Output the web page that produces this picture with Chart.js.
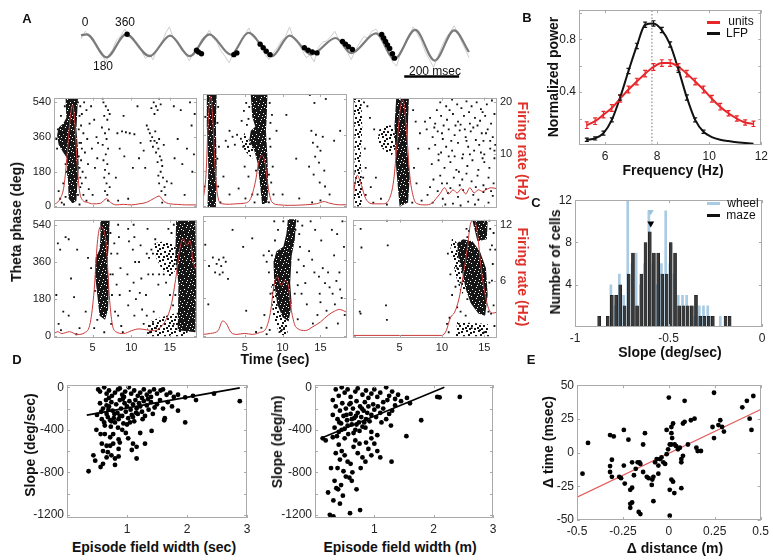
<!DOCTYPE html>
<html><head><meta charset="utf-8">
<script src="https://cdn.jsdelivr.net/npm/chart.js@4.4.1/dist/chart.umd.min.js"></script>
<style>
html,body{margin:0;padding:0;background:#fff;}
#fig{position:relative;width:773px;height:560px;overflow:hidden;font-family:'Liberation Sans',Arial,sans-serif;color:#111;}
#fig canvas{position:absolute;}
.t{position:absolute;white-space:nowrap;line-height:1;transform:translate(-50%,-50%);}
.lab{font-weight:bold;font-size:14px;}
.pan{font-weight:bold;font-size:13px;}
.sm{font-size:12px;}
.key{position:absolute;height:3px;}
</style></head><body><div id="fig"></div>
<script>
/* ---------- panel A: LFP trace + spikes ---------- */
const lfpT = [0, 21, 93, 164, 250, 325, 396, 468, 546, 610, 696, 760, 839, 928, 985, 1075, 1142, 1218, 1289, 1360, 1414];
const lfpA = [0.92, 1.02, -1.1, 1.02, -0.98, 0.9, -0.98, 1.02, -0.84, 1.16, -0.98, 0.9, -0.84, 0.68, -0.7, 1.1, -1.24, 1.42, -1.38, 1.38, -0.6];
const rawLfp = [[0,0.6],[15,1.3],[30,0.8],[45,0.6],[60,-0.2],[75,-0.6],[90,-1.6],[100,-0.9],[115,-0.4],[130,0.5],[145,0.9],[160,1.5],[172,0.8],[190,0.7],[205,-0.1],[220,-0.5],[235,-1.2],[250,-0.8],[262,-1.3],[280,-0.2],[295,0.3],[310,1.2],[322,1.7],[335,0.8],[350,0.4],[365,-0.4],[380,-0.8],[395,-1.4],[410,-0.6],[425,-0.2],[440,0.6],[455,0.9],[468,1.4],[480,0.7],[495,0.3],[510,-0.5],[525,-1.0],[540,-1.6],[555,-0.7],[570,-0.3],[585,0.5],[600,1.1],[612,1.6],[625,0.8],[640,0.5],[655,-0.2],[670,-0.8],[685,-1.3],[700,-0.7],[715,-0.2],[730,0.4],[745,0.8],[760,1.7],[775,0.6],[790,0.2],[805,-0.4],[820,-1.1],[835,-0.9],[850,-1.5],[865,-0.2],[880,0.3],[895,0.4],[910,0.8],[925,1.3],[940,0.5],[955,0.2],[970,-0.6],[985,-1.3],[1000,-0.4],[1015,0.2],[1030,0.8],[1045,0.7],[1060,1.3],[1075,1.5],[1090,0.9],[1105,0.3],[1120,-0.3],[1135,-1.5],[1150,-1.9],[1165,-0.7],[1180,0.0],[1195,0.7],[1210,1.7],[1222,1.2],[1240,0.4],[1255,-0.6],[1270,-1.3],[1285,-2.0],[1300,-1.0],[1315,-0.1],[1330,0.7],[1345,1.2],[1360,1.8],[1375,1.0],[1390,0.2],[1405,-0.6],[1414,-1.1]];
const spikeT = [168, 421, 428, 439, 557, 568, 653, 664, 675, 689, 814, 828, 843, 860, 953, 964, 975, 989, 1096, 1103, 1110, 1117, 1125, 1135, 1142];
const spikeA = [1.02, -0.44, -0.6, -0.76, -0.84, -0.68, 0.12, -0.2, -0.52, -0.84, -0.2, -0.44, -0.6, -0.68, 0.36, 0.12, -0.12, -0.36, 1.0, 0.68, 0.36, 0.04, -0.28, -0.76, -1.16];
const scaleBarT = [1178, 1378];

/* ---------- panel A: rasters (time sec, theta phase deg) ---------- */
const phaseTicks = [0, 180, 360, 540];
const timeTicks = [5, 10, 15];
const rateTicksTop = [10, 20];
const rateTicksBottom = [6, 12];

// dense = nearly solid clusters, loose = speckled clouds
const r1c1Dense = [[[1.5,562],[3.1,562],[3.0,480],[2.9,400],[3.1,300],[3.2,200],[3.0,100],[2.9,30],[2.4,15],[1.9,40],[1.8,150],[1.7,250],[1.2,280],[0.6,320],[0.4,370],[0.6,410],[1.2,430],[1.6,460]]];
const r1c1Loose = [];
const r1c1Spikes = [[3.4,520],[3.6,480],[3.9,540],[4.2,500],[3.5,420],[3.8,380],[4.3,350],[3.6,300],[4.0,280],[3.5,240],[4.4,220],[3.7,180],[4.1,150],[3.6,120],[4.5,90],[3.8,60],[4.2,30],[3.5,330],[4.6,430],[3.3,200],[3.4,100],[4.8,520],[5.2,450],[4.9,300],[5.3,200],[5.0,60],[3.3,10],
 [6.4,540],[6.7,520],[7.0,500],[6.5,470],[6.9,450],[7.1,400],[6.6,380],[6.8,350],[6.3,320],[7.0,300],[6.7,270],[6.4,240],[6.9,220],[6.6,190],[7.1,170],[6.5,150],[6.8,120],[7.2,100],[6.6,80],[6.9,60],[7.0,30],[6.3,560],[7.2,480],[6.2,410],
 [5.5,360],[5.7,330],[5.6,250],[8.2,380],[8.8,390],[9.3,385],[9.8,380],[10.4,375],[8.5,300],[9.1,260],[10.2,200],[8.0,150],[9.6,40],[10.8,520],[8.3,30],[11.2,330],[11.6,290],[11.0,250],[11.8,200],[9.0,470],
 [12.9,540],[13.2,520],[13.4,500],[13.0,480],[13.6,560],[13.8,530],[12.6,510],[12.4,380],[12.7,360],[13.0,340],[13.3,330],[12.8,310],[13.5,300],[13.2,280],[13.7,260],[13.9,240],[13.4,230],[14.0,210],[12.2,400],[12.0,420],[13.1,390],[13.6,350],[14.2,320],[12.5,340],
 [13.8,180],[14.1,150],[13.6,120],[14.3,100],[13.9,80],[14.4,60],[14.0,20],[13.5,160],[14.6,130],[15.5,520],[16.4,500],[17.6,540],[17.8,420],[16.0,350],[17.2,300],[15.6,250],[16.6,220],[17.9,180],[15.2,120],[16.9,60],[18.1,270],[18.2,480],
 [1.0,20],[0.8,40],[1.3,10],[1.5,50],[0.6,80],[1.2,120],[0.9,470],[0.5,400],[0.3,350],[0.4,300],[1.6,180],[3.1,540],[3.2,400],[3.2,260],[3.1,60],[3.3,470],[3.3,330],[3.4,150],[1.4,520],[1.3,380],[1.5,220]];
const r1c1Rate = [[0,0.3],[0.8,1.5],[1.3,4],[1.7,10],[2.1,17],[2.4,19.5],[2.7,16],[3.0,8],[3.3,3],[3.7,1.2],[4.3,0.8],[5.0,0.5],[6.0,0.6],[6.8,1.5],[7.3,0.8],[8.0,0.3],[9,0.4],[10,0.3],[11,0.5],[12,0.8],[13,1.6],[13.6,2],[14.2,1],[15,0.5],[16,0.4],[17,0.3],[18.5,0.3]];

const r1c2Dense = [[[0.0,565],[1.3,565],[1.2,400],[1.3,200],[1.2,-5],[0.1,-5],[0.2,200],[0.0,400]],
 [[5.8,560],[8.0,560],[7.9,440],[7.8,380],[8.0,250],[8.1,100],[8.0,20],[7.3,10],[7.0,120],[6.7,220],[6.2,290],[5.6,330],[5.8,380],[6.4,400],[6.0,450]]];
const r1c2Loose = [[[5.6,330],[6.2,290],[6.0,240],[5.0,280],[4.6,330],[5.0,370]]];
const r1c2Spikes = [[3.0,380],[3.4,350],[4.0,360],[4.5,340],[4.8,300],[3.7,310],[2.5,330],[2.8,300],[2.2,150],[3.0,60],[4.2,90],[5.0,200],[5.5,150],[6.0,60],[6.3,20],[5.2,520],[4.9,480],[5.1,40],
 [8.3,520],[8.6,460],[8.4,300],[8.7,200],[8.5,120],[8.8,60],[9.2,380],[10.5,460],[11.8,240],[12.2,40],[10.0,60],
 [13.6,560],[14.2,520],[15.7,540],[13.8,380],[14.4,360],[14.0,320],[14.6,300],[15.0,280],[14.3,250],[14.8,220],[15.3,350],[13.5,200],[14.1,160],[15.5,180],[16.8,330],[17.6,380],[14.9,120],[15.6,100],[16.2,60],[15.0,30],[13.9,20],
 [1.5,500],[1.6,300],[1.5,100],[1.8,20],[-0.2,450],[-0.3,100],[5.3,410],[4.6,430],[8.2,20],[8.4,420],[5.6,500],[5.5,440],[6.5,180],[6.7,60],[8.3,340],[8.2,160],[1.4,420],[1.4,240]];
const r1c2Rate = [[-0.5,1],[-0.1,6],[0.2,16],[0.5,20.5],[0.8,16],[1.1,7],[1.5,1.5],[2,0.5],[3,0.4],[4,0.5],[5,0.6],[5.8,1.5],[6.4,4.5],[6.9,8.5],[7.3,9.5],[7.7,8],[8.1,3.5],[8.6,0.8],[9.5,0.3],[11,0.2],[13,0.3],[14.5,0.5],[15.5,0.9],[16.2,0.6],[17.5,0.3],[18.5,0.3]];

const r1c3Dense = [[[4.6,562],[6.1,562],[6.0,450],[5.9,300],[6.2,150],[6.0,20],[5.0,0],[4.8,100],[4.6,200],[4.5,300],[4.4,420]]];
const r1c3Loose = [[[-0.4,562],[0.5,562],[0.6,400],[0.4,250],[0.6,100],[0.5,0],[-0.4,0],[-0.3,250]],
 [[4.5,300],[4.0,260],[3.0,300],[2.4,340],[2.6,400],[3.5,420],[4.4,420]]];
const r1c3Spikes = [[9.8,540],[10.5,520],[11.2,555],[11.8,530],[12.3,510],[12.9,545],[13.5,520],[14.1,540],[14.6,505],[15.3,530],[15.9,550],[10.9,500],[13.2,490],
 [8.0,440],[8.6,460],[9.2,430],[9.9,470],[10.6,450],[11.3,480],[11.9,440],[12.6,470],[13.3,430],[13.9,460],[14.5,445],[15.1,470],[15.8,430],[16.2,480],[10.2,420],[12.2,425],[14.8,490],
 [7.4,380],[8.2,400],[8.9,360],[9.5,390],[10.1,350],[10.8,400],[11.5,370],[12.1,395],[12.8,360],[13.4,390],[14.0,345],[14.7,380],[15.4,400],[16.0,360],[9.1,410],[11.1,340],[13.7,410],[15.7,340],
 [8.5,300],[9.2,320],[9.9,280],[10.5,310],[11.2,290],[11.9,330],[12.5,270],[13.1,310],[13.8,290],[14.4,320],[15.0,270],[15.7,300],[16.3,320],[10.8,260],[12.9,340],[14.9,340],
 [8.8,220],[9.6,240],[10.3,200],[11.0,230],[11.7,190],[12.4,250],[13.0,210],[13.6,240],[14.3,190],[15.0,230],[15.6,200],[16.2,250],[12.0,180],[14.8,250],
 [9.0,140],[9.8,160],[10.6,120],[11.4,150],[12.1,110],[12.9,170],[13.5,130],[14.2,160],[14.9,110],[15.5,150],[16.1,120],
 [7.6,30],[8.3,60],[8.9,20],[9.5,80],[10.1,40],[10.7,70],[11.3,15],[11.9,50],[12.5,85],[13.1,25],[13.7,60],[14.3,35],[14.9,75],[15.5,20],[16.0,55],[10.4,10],[12.2,5],[13.9,10],[11.0,95],[15.2,90],
 [6.6,500],[6.9,440],[7.2,300],[6.7,200],[7.0,120],[1.2,520],[1.5,460],[2.0,400],[1.0,200],[1.6,100],[2.8,40],[3.5,10],[2.2,150],[1.9,20],[6.5,20],[0.8,540],[0.9,300],[0.7,150],[1.0,60],
 [9.4,500],[10.0,380],[11.6,420],[12.7,400],[14.2,420],[15.2,380],[9.6,270],[11.5,260],[13.3,270],[14.6,280],[16.2,290],[10.0,120],[12.4,140],[14.0,100],[15.8,80],[8.6,100]];
const r1c3Rate = [[-0.5,2],[0,6],[0.5,4],[1.0,1.5],[2,0.5],[3,0.5],[3.8,1.5],[4.3,5],[4.7,12],[5.1,19],[5.4,20.5],[5.8,15],[6.2,6],[6.6,2],[7,0.6],[8,0.3],[8.8,0.6],[9.3,1.5],[9.8,2.5],[10.3,3.6],[10.8,2.4],[11.3,3.2],[11.8,2.6],[12.3,3.4],[12.8,2.4],[13.3,3.6],[13.8,2.6],[14.3,3.2],[14.8,2.9],[15.3,3.3],[15.8,3.6],[16.5,3.4]];

const r2c1Dense = [[[6.0,562],[7.2,562],[7.1,450],[6.9,350],[7.1,250],[7.0,130],[6.6,80],[5.9,100],[5.6,200],[5.3,300],[5.4,380],[5.9,420],[6.0,480]],
 [[15.8,562],[18.3,562],[18.4,300],[18.3,20],[16.0,30],[16.1,250],[15.7,400]]];
const r2c1Loose = [[[13.0,450],[14.2,460],[15.7,440],[16.0,330],[15.0,290],[14.0,320],[13.2,380]],
 [[12.2,70],[13.6,90],[15.6,110],[17.4,60],[17.2,0],[12.0,0]]];
const r2c1Spikes = [[8.3,540],[8.4,480],[8.2,400],[8.6,330],[8.1,250],[8.5,200],[8.3,100],[8.7,50],[9.6,520],[9.7,460],[9.5,300],[9.8,220],[9.6,150],[10.3,540],[10.4,480],[10.2,420],[10.5,360],[10.3,260],[10.6,180],[10.4,100],[11.2,440],[11.0,360],[11.3,280],[11.1,210],[11.4,130],[12.1,520],[12.0,400],[12.2,300],[11.9,200],[12.4,50],[8.9,20],[7.6,300],[7.8,450],[7.5,200],[7.9,120],
 [0.5,450],[0.8,420],[1.5,480],[1.9,470],[2.2,280],[2.6,190],[1.2,120],[1.9,100],[0.6,60],[0.9,30],[3.3,40],[4.1,120],[4.4,380],[4.8,330],[3.0,420],[0.3,200],[2.9,10],
 [11.6,60],[12.0,100],[12.4,20],[12.8,70],[12.9,120],[13.2,40],[16.0,110],[17.0,130],[12.6,420],[12.3,380],[12.8,300],[13.5,250],[14.5,260],[15.2,500],[14.8,520],[15.0,200],[15.4,150],[6.5,20],[7.4,60],[5.2,40],
 [7.3,500],[7.4,400],[7.3,300],[5.6,80],[5.3,220],[15.5,540],[15.6,350],[15.7,200],[15.5,60],[13.1,470],[12.8,400],[14.2,300],[13.6,300]];
const r2c1Rate = [[0,0.3],[0.5,0.5],[1,0.3],[2,0.5],[3,0.2],[4,0.4],[4.7,1.5],[5.2,5],[5.6,10],[6.0,11.8],[6.4,11.5],[6.8,9.5],[7.1,5],[7.5,1.5],[8,0.5],[9,0.3],[10,0.6],[11,0.8],[12,0.7],[13,0.6],[13.8,1.0],[14.5,1.8],[15.2,3.5],[15.8,6.5],[16.3,9.5],[16.7,10.5],[17.2,9.8],[17.6,10.3],[18.0,8],[18.5,7]];

const r2c2Dense = [[[10.7,550],[11.8,550],[11.6,450],[11.2,380],[11.0,250],[11.2,150],[10.8,70],[10.0,90],[9.3,150],[8.9,250],[8.8,350],[9.2,400],[10.1,420],[10.5,480]]];
const r2c2Loose = [[[8.9,250],[9.3,150],[10.0,90],[10.8,70],[10.6,0],[9.6,10],[8.7,100],[8.5,250]]];
const r2c2Spikes = [[0.3,330],[0.8,370],[1.3,340],[1.6,360],[1.9,330],[2.1,300],[2.5,350],[2.2,370],[1.1,300],[1.7,290],[2.8,270],[-0.2,430],[0.2,150],[3.4,500],[4.8,420],[6.0,460],[5.2,120],[6.5,20],[7.2,40],[7.6,100],[7.9,350],[8.2,400],[7.5,380],[7.9,10],[8.3,30],[9.6,20],[10.2,40],[8.9,540],[9.4,500],
 [12.0,540],[12.6,520],[13.7,540],[14.3,500],[12.3,420],[12.1,360],[12.8,330],[13.5,400],[13.9,360],[14.2,300],[14.8,280],[15.3,320],[15.6,250],[16.2,230],[16.6,200],[17.1,260],[17.5,300],[17.8,180],[16.9,150],[15.8,120],[14.6,100],[14.0,60],[13.2,150],[12.5,200],[13.0,250],[16.5,500],[17.2,480],[17.9,540],[18.1,420],[15.1,450],[14.9,200],[15.8,40],[17.3,60],[18.2,100],[16.8,380],[12.0,80],
 [8.2,300],[8.4,200],[11.9,300],[11.6,200],[12.2,480],[10.1,540],[9.9,30],[8.6,380],[9.0,450],[11.7,500],[12.0,240],[16.0,300],[17.6,220],[15.0,160]];
const r2c2Rate = [[-0.5,0.2],[0.5,0.3],[1.5,0.6],[2.1,1.6],[2.6,1.3],[3.2,0.4],[4,0.2],[5,0.3],[6,0.2],[7,0.4],[7.8,0.8],[8.4,2.5],[8.9,5.5],[9.3,6.2],[9.8,5.3],[10.3,5.8],[10.7,5.5],[11.1,3],[11.6,1.2],[12,0.8],[13,0.6],[14,1.0],[15,1.5],[16,2.2],[16.8,2.6],[17.5,2.8],[18.5,2.5]];

const r2c3Dense = [[[11.8,450],[12.5,470],[13.6,460],[14.5,410],[15.2,330],[15.4,200],[15.1,100],[14.3,110],[13.4,160],[12.8,230],[12.4,310],[11.9,390]],
 [[13.6,560],[15.4,560],[15.3,470],[14.2,460]]];
const r2c3Loose = [[[11.2,480],[11.8,450],[11.9,390],[12.4,310],[12.8,230],[12.3,200],[11.6,300],[11.0,420]],
 [[11.8,70],[15.4,60],[15.6,0],[11.6,0]]];
const r2c3Spikes = [[0.4,520],[0.5,430],[3.5,560],[3.6,440],[0.3,120],[0.4,110],[3.4,150],[3.5,80],[10.6,60],[10.8,20],[10.9,90],[11.0,300],[10.7,400],[11.2,200],[11.6,240],[11.8,140],[12.0,60],[12.2,120],[15.7,520],[15.9,440],[16.0,350],[15.9,270],[16.1,150],[15.8,110],[16.2,50],[16.3,420],[16.1,500],[12.8,100],[13.5,40],[14.5,30],[15.0,20],[12.9,520],[13.0,480],[12.0,450],[12.4,400],[11.8,330],[12.2,260],[13.0,180],[15.7,420],[15.6,260],[15.5,120],[13.2,510],[15.6,560]];
const r2c3Rate = [[-0.5,0.1],[5,0.1],[10,0.1],[10.5,0.6],[11,2.0],[11.5,2.6],[12.0,4.0],[12.5,6.5],[13.0,9.5],[13.4,12.2],[13.8,12.5],[14.2,11],[14.6,7.5],[15.0,5.0],[15.5,3.0],[16.0,2.5],[16.5,2.6]];

/* ---------- panel B: power spectra ---------- */
const bFreq   = [5.3,5.62,5.94,6.26,6.58,6.9,7.22,7.54,7.86,8.18,8.5,8.82,9.14,9.46,9.78,10.1,10.42,10.74,11.06,11.38,11.7];
const unitsPow = [0.15,0.18,0.23,0.28,0.35,0.42,0.48,0.54,0.59,0.62,0.62,0.59,0.54,0.48,0.42,0.35,0.29,0.24,0.2,0.17,0.16];
const unitsErr = [0.025,0.025,0.025,0.025,0.025,0.025,0.025,0.025,0.025,0.025,0.025,0.025,0.025,0.025,0.025,0.025,0.025,0.02,0.02,0.02,0.02];
const lfpPow   = [0.04,0.05,0.09,0.19,0.36,0.56,0.75,0.91,0.92,0.87,0.76,0.57,0.36,0.19,0.1,0.06,0.04,0.03,0.02,0.015,0.01];
const lfpErr   = [0.012,0.012,0.015,0.015,0.02,0.02,0.02,0.02,0.02,0.02,0.02,0.02,0.02,0.015,0.012,0,0,0,0,0,0];
const thetaPeak = 7.8;
const bXTicks = [6, 8, 10, 12];
const bYTicks = [0.2, 0.4, 0.6, 0.8, 1.0];
const bYLabels = [0.4, 0.8];

/* ---------- panel C: slope histogram ---------- */
const binCenters = [-0.87,-0.848,-0.825,-0.803,-0.78,-0.758,-0.735,-0.713,-0.69,-0.668,-0.645,-0.623,-0.6,-0.578,-0.555,-0.533,-0.51,-0.488,-0.465,-0.443,-0.42,-0.398,-0.375,-0.353,-0.33,-0.308,-0.285,-0.263,-0.24,-0.218,-0.195,-0.173];
const mazeCounts  = [1,0,1,3,3,4,2,5,7,2,5,8,9,7,7,5,5,8,7,2,2,2,2,3,1,1,1,1,0,0,1,1];
const wheelCounts = [1,0,0,4,2,5,3,12,6,7,4,6,11,6,4,6,11,6,5,3,3,3,2,1,2,2,2,1,0,1,0,0];
const meanSlope = -0.595;
const wheelArrowY = 10.9;
const mazeArrowY = 9.8;
const cXTicks = [-1, -0.5, 0];
const cYTicks = [4, 8, 12];

/* ---------- panel D: slope vs field width ---------- */
const d1Points = [[0.52,-20],[0.55,-40],[0.62,0],[0.66,-60],[0.7,-30],[0.75,-80],[0.8,-50],[0.85,-20],[0.88,-10],[0.92,-70],[0.97,-40],[1.03,0],[1.07,-60],[1.12,-30],[1.18,-80],[1.22,-50],[1.28,-20],[1.33,-70],[1.38,-40],[1.45,-20],[1.5,-60],[1.56,-30],[1.6,-20],[1.66,-70],[1.72,-50],[1.78,-90],[1.85,-70],[1.97,-95],[2.1,-80],[2.15,-120],[2.45,-60],[2.88,-130],[1.4,-90],[0.95,-90],[0.7,-100],[1.25,-100],
 [0.5,-260],[0.55,-150],[0.58,-300],[0.6,-200],[0.62,-330],[0.65,-120],[0.66,-250],[0.68,-280],[0.7,-180],[0.72,-310],[0.74,-140],[0.76,-220],[0.78,-290],[0.8,-330],[0.82,-160],[0.84,-240],[0.86,-300],[0.88,-120],[0.9,-200],[0.92,-270],[0.94,-340],[0.96,-150],[0.98,-230],[1.0,-180],[1.02,-290],[1.04,-130],[1.06,-210],[1.08,-260],[1.1,-160],[1.12,-320],[1.14,-120],[1.16,-200],[1.18,-250],[1.2,-150],[1.22,-180],[1.25,-230],[1.28,-130],[1.3,-270],[1.33,-170],[1.36,-210],[1.4,-140],[1.43,-250],[1.46,-190],[1.5,-160],[1.55,-120],[1.6,-200],[1.63,-290],[1.68,-140],[1.75,-180],[1.85,-220],[0.63,-360],[0.73,-370],[0.85,-380],[1.0,-350],[1.1,-280],[0.57,-230],[0.69,-210],[0.79,-250],[0.93,-110],[1.05,-330],[1.15,-240],[1.26,-300],[1.35,-110],[0.74,-320],[0.66,-170],[0.88,-270],[1.97,-330],[1.62,-310],
 [0.36,-790],[0.44,-640],[0.47,-690],[0.56,-750],[0.6,-720],[0.66,-660],[0.74,-640],[0.8,-670],[0.86,-650],[0.66,-550],[0.58,-530],[0.72,-550],[0.77,-530],[0.86,-490],[0.88,-520],[0.56,-440],[0.63,-440],[0.49,-400],[0.72,-470],[0.77,-440],[1.1,-530],[1.16,-560],[1.08,-590],[1.16,-670],[1.3,-530],[0.86,-580],[0.8,-730],[1.41,-410],[1.22,-430],[0.92,-400],[0.6,-600],[0.68,-610],[0.98,-430],[1.02,-480]];
const d1FitX = [0.33, 2.88];
const d1FitY = [-262, -5];
const d2Points = [[0.35,-20],[0.4,-80],[0.45,0],[0.5,-50],[0.55,-20],[0.6,-90],[0.68,-40],[0.72,-10],[0.8,-70],[0.86,-30],[0.9,-100],[0.95,-60],[1.0,-20],[1.05,-90],[1.1,-50],[1.2,0],[1.25,-80],[1.3,-40],[1.35,-110],[1.4,-70],[1.45,-130],[1.55,-100],[1.6,-150],[2.06,-90],[2.1,-95],[2.44,-90],[0.3,-120],[1.15,-140],
 [0.3,-260],[0.33,-380],[0.35,-180],[0.38,-300],[0.4,-420],[0.42,-220],[0.44,-340],[0.46,-150],[0.48,-270],[0.5,-390],[0.52,-200],[0.54,-310],[0.56,-440],[0.58,-160],[0.6,-250],[0.62,-350],[0.64,-200],[0.66,-290],[0.68,-400],[0.7,-130],[0.72,-240],[0.74,-330],[0.76,-180],[0.78,-280],[0.8,-370],[0.82,-220],[0.84,-140],[0.86,-300],[0.88,-240],[0.9,-180],[0.92,-320],[0.95,-260],[0.98,-160],[1.0,-210],[1.03,-280],[1.06,-180],[1.1,-240],[1.15,-200],[1.2,-300],[1.25,-250],[1.3,-220],[1.35,-170],[0.45,-400],[0.55,-360],[0.65,-430],[0.75,-410],[0.85,-380],[0.95,-420],[1.05,-450],[0.37,-460],[0.5,-480],[0.62,-300],[0.7,-350],[0.79,-200],[0.41,-330],[0.53,-260],[0.69,-270],[0.83,-330],[0.6,-150],[1.12,-330],[1.28,-360],[1.22,-120],
 [0.13,-480],[0.18,-500],[0.3,-470],[0.4,-540],[0.45,-600],[0.35,-620],[0.5,-640],[0.42,-680],[0.55,-700],[0.6,-720],[0.38,-760],[0.48,-790],[0.52,-840],[0.62,-880],[0.44,-920],[0.36,-950],[0.22,-990],[0.31,-1065],[0.42,-1095],[0.25,-1200],[0.31,-1215],[0.59,-1185],[0.76,-1155],[0.7,-960],[0.39,-960],[0.65,-560],[0.72,-620],[0.8,-660],[0.85,-700],[0.77,-760],[0.9,-580],[0.95,-640],[1.0,-530],[1.05,-600],[1.1,-660],[0.68,-500],[0.75,-530],[1.79,-310],[1.54,-460],[1.29,-700],[0.58,-850],[0.33,-880],[0.47,-1020],[0.27,-760],[0.63,-800],[0.86,-520],[0.95,-480]];
const d2FitX = [0.1, 2.18];
const d2FitY = [-480, 0];
const dXTicks = [1, 2, 3];
const dYTicks = [-1200, -1000, -800, -600, -400, -200, 0];
const dYLabels = [-1200, -800, -400, 0];

/* ---------- panel E: time vs distance ---------- */
const ePoints = [[-0.47,-15.6],[-0.44,7.2],[-0.32,-14.4],[-0.32,-10],[-0.31,-5.3],[-0.31,-18],[-0.27,-18],[-0.26,-19],[-0.32,13],[-0.3,12],[-0.245,16.8],[-0.22,9.6],[-0.245,-9.6],[-0.24,-23],[-0.21,-27.6],[-0.2,-26],[-0.21,-38],[-0.2,-37],[-0.21,-41],[-0.164,-44],[-0.155,-45.6],[-0.14,6],[-0.13,14.4],[-0.16,-7.2],[-0.155,-8.4],[-0.14,-14.4],[-0.12,-18],[-0.11,-19],[-0.09,-20],[-0.084,-18],[-0.093,-24],[-0.084,-36],[-0.075,-7.2],[-0.066,-4.8],[-0.057,-15.6],[-0.048,-4.8],[-0.04,-3.6],[-0.03,-7.2],[-0.02,-8.4],[-0.012,-1.2],[-0.004,2.4],[0.005,6],[0.014,6],[0,40.8],[0.014,19],[0.023,21.6],[0.014,14.4],[0.018,10.8],[0.032,6],[0.04,4.8],[0.05,2.4],[0.06,3.6],[0.068,-4.8],[0.077,-2.4],[0.068,-7.2],[0.014,-20],[0.023,-21.6],[0.03,-30],[0.005,-27.6],[0.005,-46.8],[0.068,-26.4],[0.077,21.6],[0.086,22.8],[0.086,38.4],[0.104,6],[0.12,24],[0.14,25.2],[0.15,3.6],[0.157,1.2],[0.175,1.2],[0.238,19],[0.246,10.8],[0.246,44.4],[0.28,24],[0.29,19],[0.3,15.6],[0.4,33.6],[0.425,38.4],[0.46,42],[0.44,25.2],[0.45,16.8],[0.27,20.4],[-0.057,-9.6],[-0.18,-12],[-0.2,-7.2],[-0.17,-7.2],[-0.19,-16.8],[-0.012,16.8]];
const eFitX = [-0.5, 0.5];
const eFitY = [-33, 32];
const eXTicks = [-0.5, -0.25, 0, 0.25, 0.5];
const eYTicks = [-50, -25, 0, 25, 50];

/* ================================================================= */
const FONT = "'Liberation Sans', Arial, Helvetica, sans-serif";
Chart.defaults.font.family = FONT;
Chart.defaults.font.size = 11;
Chart.defaults.color = '#222';
const fig = document.getElementById('fig');

// box around the plot area with small ticks pointing inward (MATLAB look)
const frame = {
  id: 'frame',
  defaults: { color: '#999', tick: 3, right: null },
  afterDatasetsDraw(chart, args, opt) {
    const { ctx, chartArea: a } = chart;
    const x = chart.scales.x, y = chart.scales.y, yr = chart.scales[opt.right] || y;
    const n = opt.tick;
    ctx.save();
    ctx.strokeStyle = opt.color;
    ctx.lineWidth = 1;
    ctx.beginPath();
    x.ticks.forEach((t) => {
      const p = Math.round(x.getPixelForValue(t.value)) + 0.5;
      ctx.moveTo(p, a.bottom); ctx.lineTo(p, a.bottom - n);
      ctx.moveTo(p, a.top); ctx.lineTo(p, a.top + n);
    });
    y.ticks.forEach((t) => {
      const p = Math.round(y.getPixelForValue(t.value)) + 0.5;
      ctx.moveTo(a.left, p); ctx.lineTo(a.left + n, p);
    });
    yr.ticks.forEach((t) => {
      const p = Math.round(yr.getPixelForValue(t.value)) + 0.5;
      ctx.moveTo(a.right, p); ctx.lineTo(a.right - n, p);
    });
    ctx.stroke();
    ctx.strokeRect(Math.round(a.left) + 0.5, Math.round(a.top) + 0.5, Math.round(a.width) - 1, Math.round(a.height) - 1);
    ctx.restore();
  },
};

// vertical error bars with caps
const errBars = {
  id: 'errBars',
  defaults: { sets: [] },
  afterDatasetsDraw(chart, args, opt) {
    const { ctx } = chart, x = chart.scales.x, y = chart.scales.y;
    opt.sets.forEach((s) => {
      const ds = chart.data.datasets[s.index];
      ctx.save();
      ctx.strokeStyle = ds.borderColor;
      ctx.lineWidth = 1.2;
      ctx.beginPath();
      ds.data.forEach((d, i) => {
        const e = s.err[i];
        if (!e) return;
        const px = x.getPixelForValue(d.x), lo = y.getPixelForValue(d.y - e), hi = y.getPixelForValue(d.y + e);
        ctx.moveTo(px, lo); ctx.lineTo(px, hi);
        ctx.moveTo(px - 2, lo); ctx.lineTo(px + 2, lo);
        ctx.moveTo(px - 2, hi); ctx.lineTo(px + 2, hi);
      });
      ctx.stroke();
      ctx.restore();
    });
  },
};

// speckled fill so the spike clouds read as many small dots, not flat shapes
function speckle(size, bg, marks, markColor, markSize) {
  const c = document.createElement('canvas');
  c.width = c.height = size;
  const g = c.getContext('2d');
  if (bg) { g.fillStyle = bg; g.fillRect(0, 0, size, size); }
  g.fillStyle = markColor;
  marks.forEach((p) => g.fillRect(p[0], p[1], markSize, markSize));
  return g.createPattern(c, 'repeat');
}
const denseFill = speckle(11, '#161616', [[1, 2], [5, 0], [8, 3], [3, 6], [9, 8], [6, 9], [0, 9], [4, 4], [10, 5], [7, 6]], '#fff', 1);
const looseFill = speckle(12, null, [[0, 1], [5, 0], [9, 2], [2, 5], [7, 4], [10, 7], [4, 9], [8, 10], [1, 10], [6, 7]], '#151515', 2);

function text(str, x, y, cls, extra) {
  const d = document.createElement('div');
  d.className = 't ' + (cls || '');
  d.textContent = str;
  d.style.left = x + 'px';
  d.style.top = y + 'px';
  if (extra) Object.assign(d.style, extra);
  fig.appendChild(d);
  return d;
}
function key(x, y, color) {
  const d = document.createElement('div');
  d.className = 'key';
  Object.assign(d.style, { left: x + 'px', top: (y - 1.5) + 'px', width: '13px', background: color });
  fig.appendChild(d);
}
function mountCanvas(left, top, w, h) {
  const c = document.createElement('canvas');
  c.width = w; c.height = h;
  c.style.left = left + 'px'; c.style.top = top + 'px';
  c.style.width = w + 'px'; c.style.height = h + 'px';
  fig.appendChild(c);
  return c;
}
const pts = (arr) => arr.map((p) => ({ x: p[0], y: p[1] }));
const zip = (xs, ys) => xs.map((v, i) => ({ x: v, y: ys[i] }));
const fixed = (list) => (s) => { s.ticks = list.map((v) => ({ value: v })); };
function axis(extra, tickExtra) {
  return Object.assign({ type: 'linear', grid: { display: false, drawTicks: false }, border: { display: false },
    ticks: Object.assign({ padding: 4, maxRotation: 0, autoSkip: false, color: '#222', callback: (v) => String(v) }, tickExtra) }, extra);
}

// plot = chart area in page pixels, m = room kept around it for axes
function place(plot, m, cfg) {
  const canvas = mountCanvas(plot.l - m.l, plot.t - m.t, plot.r - plot.l + m.l + m.r, plot.b - plot.t + m.t + m.b);
  const o = cfg.options;
  o.responsive = false; o.animation = false; o.devicePixelRatio = 1;
  o.plugins = Object.assign({ legend: { display: false }, tooltip: { enabled: false } }, o.plugins);
  o.layout = { padding: { top: m.t, right: o.scales.y1 ? 0 : m.r, left: 0, bottom: 0 } };
  o.scales.x.afterFit = (s) => { s.height = m.b; };
  o.scales.y.afterFit = (s) => { s.width = m.l; };
  if (o.scales.y1) o.scales.y1.afterFit = (s) => { s.width = m.r; };
  return new Chart(canvas, cfg);
}

/* ---------- A: LFP ---------- */
(function () {
  const c = mountCanvas(77, 20, 396, 64);
  new Chart(c, {
    type: 'scatter',
    data: { datasets: [
      { type: 'line', data: pts(rawLfp), borderColor: '#cfcfcf', borderWidth: 1, pointRadius: 0, order: 3 },
      { type: 'line', data: zip(lfpT, lfpA), borderColor: '#7b7b7b', borderWidth: 2.2, pointRadius: 0, cubicInterpolationMode: 'monotone', order: 2 },
      { data: zip(spikeT, spikeA), pointRadius: 2.7, backgroundColor: '#000', borderWidth: 0, order: 1 },
      { type: 'line', data: zip(scaleBarT, [-2.84, -2.84]), borderColor: '#000', borderWidth: 2.5, pointRadius: 0, order: 1 },
    ] },
    options: { responsive: false, animation: false, devicePixelRatio: 1, layout: { padding: 0 },
      plugins: { legend: { display: false }, tooltip: { enabled: false } },
      elements: { line: { borderCapStyle: 'butt' } },
      datasets: { line: { clip: false }, scatter: { clip: false } },
      scales: { x: { type: 'linear', display: false, min: 0, max: 1414 }, y: { display: false, min: -3.16, max: 1.96 } } },
  });
  text('0', 85, 22, 'sm');
  text('360', 125, 22, 'sm');
  text('180', 103, 66, 'sm');
  text('200 msec', 435, 71, 'sm');
})();

/* ---------- A: rasters ---------- */
const rasters = [
  { plot: { l: 54, t: 94, r: 197, b: 208 }, xr: [0, 18.5], dense: r1c1Dense, loose: r1c1Loose, spikes: r1c1Spikes, rate: r1c1Rate, rt: rateTicksTop, left: true, bottom: false, right: false },
  { plot: { l: 203, t: 94, r: 347, b: 208 }, xr: [-0.5, 18.5], dense: r1c2Dense, loose: r1c2Loose, spikes: r1c2Spikes, rate: r1c2Rate, rt: rateTicksTop, left: false, bottom: false, right: false },
  { plot: { l: 353, t: 94, r: 497, b: 208 }, xr: [-0.5, 16.5], dense: r1c3Dense, loose: r1c3Loose, spikes: r1c3Spikes, rate: r1c3Rate, rt: rateTicksTop, left: false, bottom: false, right: true },
  { plot: { l: 54, t: 216, r: 197, b: 338 }, xr: [0, 18.5], dense: r2c1Dense, loose: r2c1Loose, spikes: r2c1Spikes, rate: r2c1Rate, rt: rateTicksBottom, left: true, bottom: true, right: false },
  { plot: { l: 203, t: 216, r: 347, b: 338 }, xr: [-0.5, 18.5], dense: r2c2Dense, loose: r2c2Loose, spikes: r2c2Spikes, rate: r2c2Rate, rt: rateTicksBottom, left: false, bottom: true, right: false },
  { plot: { l: 353, t: 216, r: 497, b: 338 }, xr: [-0.5, 16.5], dense: r2c3Dense, loose: r2c3Loose, spikes: r2c3Spikes, rate: r2c3Rate, rt: rateTicksBottom, left: false, bottom: true, right: true },
];
const PH_MIN = -8, PH_MAX = 565;
const cloud = (poly, fill) => ({ type: 'line', data: pts(poly), showLine: true, fill: 'shape', backgroundColor: fill,
  borderColor: 'rgba(0,0,0,0)', borderWidth: 0, pointRadius: 0, order: 3 });
rasters.forEach((r) => {
  const k = r.rt[1] / 540;
  const ds = r.loose.map((b) => cloud(b, looseFill)).concat(r.dense.map((b) => cloud(b, denseFill)));
  ds.push({ data: pts(r.spikes), pointStyle: 'rect', pointRadius: 1.3, backgroundColor: '#111', borderWidth: 0, order: 2 });
  ds.push({ type: 'line', data: pts(r.rate), yAxisID: 'y1', borderColor: '#c83a3a', borderWidth: 1, pointRadius: 0,
    cubicInterpolationMode: 'monotone', order: 1 });
  place(r.plot, { l: 36, t: 6, r: 26, b: 16 }, {
    type: 'scatter',
    data: { datasets: ds },
    options: {
      plugins: { frame: { color: '#aaa', right: r.right ? 'y1' : null } },
      scales: {
        x: axis({ min: r.xr[0], max: r.xr[1], afterBuildTicks: fixed(timeTicks) }, { display: r.bottom, padding: 3 }),
        y: axis({ min: PH_MIN, max: PH_MAX, afterBuildTicks: fixed(phaseTicks) }, { display: r.left, padding: 3 }),
        y1: axis({ position: 'right', min: PH_MIN * k, max: PH_MAX * k, afterBuildTicks: fixed(r.rt) }, { display: r.right, padding: 3 }),
      },
    },
    plugins: [frame],
  });
});
text('Theta phase (deg)', 16, 222, 'lab', { transform: 'translate(-50%,-50%) rotate(-90deg)' });
text('Firing rate (Hz)', 523, 151, 'lab', { color: '#e0302a', transform: 'translate(-50%,-50%) rotate(90deg)' });
text('Firing rate (Hz)', 523, 277, 'lab', { color: '#e0302a', transform: 'translate(-50%,-50%) rotate(90deg)' });
text('Time (sec)', 275, 359, 'lab');

/* ---------- B ---------- */
place({ l: 579, t: 5, r: 762, b: 145 }, { l: 30, t: 5, r: 10, b: 18 }, {
  type: 'scatter',
  data: { datasets: [
    { type: 'line', data: zip(bFreq, unitsPow), borderColor: '#e8262a', borderWidth: 2, pointRadius: 0, cubicInterpolationMode: 'monotone' },
    { type: 'line', data: zip(bFreq, lfpPow), borderColor: '#111', borderWidth: 2, pointRadius: 0, cubicInterpolationMode: 'monotone' },
    { type: 'line', data: zip([thetaPeak, thetaPeak], [0, 1.02]), borderColor: '#777', borderWidth: 1, borderDash: [1.5, 2], pointRadius: 0 },
  ] },
  options: {
    plugins: { frame: { color: '#aaa' }, errBars: { sets: [{ index: 0, err: unitsErr }, { index: 1, err: lfpErr }] } },
    scales: {
      x: axis({ min: 5, max: 12, afterBuildTicks: fixed(bXTicks) }, { font: { size: 12 } }),
      y: axis({ min: 0, max: 1.02, afterBuildTicks: fixed(bYTicks) }, { padding: 3, font: { size: 12 }, callback: (v) => (bYLabels.includes(v) ? String(v) : '') }),
    },
  },
  plugins: [frame, errBars],
});
key(707, 22, '#e8262a'); text('units', 741, 21, 'sm');
key(707, 33, '#111'); text('LFP', 737, 33, 'sm');
text('Normalized power', 553, 77, 'lab', { transform: 'translate(-50%,-50%) rotate(-90deg)' });
text('Frequency (Hz)', 673, 170, 'lab');

/* ---------- C ---------- */
place({ l: 575, t: 196, r: 762, b: 327 }, { l: 30, t: 6, r: 10, b: 18 }, {
  type: 'bar',
  data: { datasets: [
    { data: zip(binCenters.map((v) => v - 0.005), wheelCounts), backgroundColor: '#a9cbe3', barThickness: 2, grouped: false, order: 2 },
    { data: zip(binCenters, mazeCounts), backgroundColor: '#3a3a3a', borderColor: '#111', borderWidth: 0.5, barThickness: 3, grouped: false, order: 1 },
    { type: 'scatter', data: zip([meanSlope], [wheelArrowY]), pointStyle: 'triangle', rotation: 180, pointRadius: 3.5, backgroundColor: '#9cc4de', borderWidth: 0, order: 0 },
    { type: 'scatter', data: zip([meanSlope], [mazeArrowY]), pointStyle: 'triangle', rotation: 180, pointRadius: 4, backgroundColor: '#000', borderWidth: 0, order: 0 },
  ] },
  options: {
    plugins: { frame: { color: '#aaa' } },
    scales: {
      x: axis({ min: -1, max: 0, offset: false, afterBuildTicks: fixed(cXTicks) }, { font: { size: 12 } }),
      y: axis({ min: 0, max: 12, afterBuildTicks: fixed(cYTicks) }, { padding: 3, font: { size: 12 } }),
    },
  },
  plugins: [frame],
});
key(707, 203, '#a9cbe3'); text('wheel', 743, 203, 'sm');
key(707, 215, '#111'); text('maze', 741, 215, 'sm');
text('Number of cells', 555, 262, 'lab', { transform: 'translate(-50%,-50%) rotate(-90deg)' });
text('Slope (deg/sec)', 670, 352, 'lab');

/* ---------- D ---------- */
function slopeChart(plot, points, fx, fy) {
  place(plot, { l: 40, t: 6, r: 10, b: 18 }, {
    type: 'scatter',
    data: { datasets: [
      { type: 'line', data: zip(fx, fy), borderColor: '#000', borderWidth: 1.6, pointRadius: 0, order: 0 },
      { data: pts(points), pointRadius: 2.4, backgroundColor: '#000', borderWidth: 0, order: 1 },
    ] },
    options: {
      plugins: { frame: { color: '#aaa' } },
      scales: {
        x: axis({ min: 0, max: 3, afterBuildTicks: fixed(dXTicks) }, { font: { size: 12 } }),
        y: axis({ min: -1230, max: 20, afterBuildTicks: fixed(dYTicks) }, { padding: 3, font: { size: 12 }, callback: (v) => (dYLabels.includes(v) ? String(v) : '') }),
      },
    },
    plugins: [frame],
  });
}
slopeChart({ l: 67, t: 381, r: 247, b: 518 }, d1Points, d1FitX, d1FitY);
slopeChart({ l: 315, t: 381, r: 493, b: 518 }, d2Points, d2FitX, d2FitY);
text('Slope (deg/sec)', 30, 445, 'lab', { transform: 'translate(-50%,-50%) rotate(-90deg)' });
text('Episode field width (sec)', 154, 547, 'lab');
text('Slope (deg/m)', 277, 442, 'lab', { transform: 'translate(-50%,-50%) rotate(-90deg)' });
text('Episode field width (m)', 400, 547, 'lab');

/* ---------- E ---------- */
place({ l: 577, t: 381, r: 764, b: 520 }, { l: 34, t: 6, r: 9, b: 18 }, {
  type: 'scatter',
  data: { datasets: [
    { type: 'line', data: zip(eFitX, eFitY), borderColor: '#e35a5a', borderWidth: 1.2, pointRadius: 0, order: 1 },
    { data: pts(ePoints), pointRadius: 2.4, backgroundColor: '#000', borderWidth: 0, order: 0 },
  ] },
  options: {
    plugins: { frame: { color: '#aaa' } },
    scales: {
      x: axis({ min: -0.5, max: 0.5, afterBuildTicks: fixed(eXTicks) }, { font: { size: 12 } }),
      y: axis({ min: -50, max: 50, afterBuildTicks: fixed(eYTicks) }, { padding: 3, font: { size: 12 } }),
    },
  },
  plugins: [frame],
});
text('\u0394 time (msec)', 548, 442, 'lab', { transform: 'translate(-50%,-50%) rotate(-90deg)' });
text('\u0394 distance (m)', 675, 548, 'lab');

/* panel letters */
text('A', 27, 18, 'pan');
text('B', 527, 17, 'pan');
text('C', 536, 202, 'pan');
text('D', 17, 359, 'pan');
text('E', 531, 359, 'pan');
</script></body></html>
